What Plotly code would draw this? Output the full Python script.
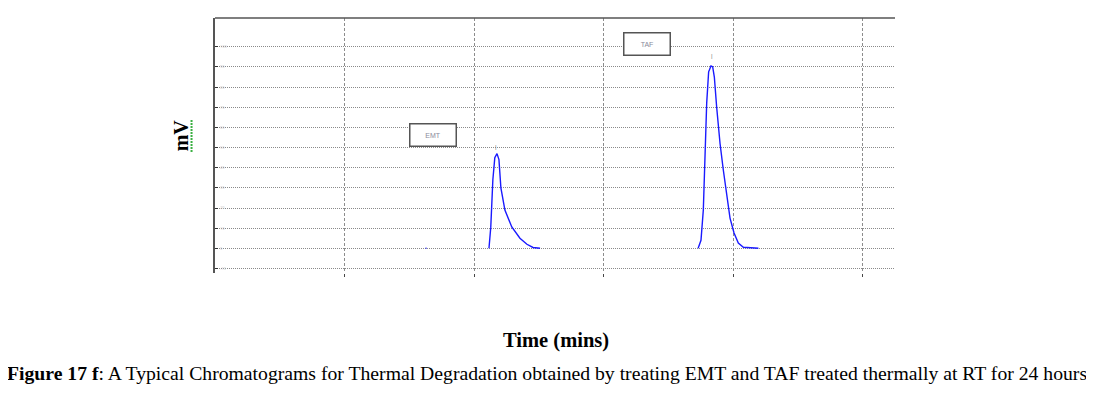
import plotly.graph_objects as go

# ---- data (time in mins, signal in mV) ----
emt_time = [2.114, 2.128, 2.144, 2.159, 2.176, 2.191, 2.206, 2.237, 2.290, 2.353, 2.407, 2.454, 2.508]
emt_mv   = [0.0, 10.5, 34.0, 45.0, 47.0, 44.0, 30.0, 19.0, 10.6, 5.0, 2.0, 0.4, 0.0]

taf_time = [3.728, 3.750, 3.768, 3.781, 3.794, 3.809, 3.827, 3.840, 3.853, 3.871, 3.897,
            3.922, 3.948, 3.974, 4.005, 4.038, 4.077, 4.193]
taf_mv   = [0.0, 4.0, 19.0, 41.0, 72.0, 87.6, 90.5, 90.1, 85.0, 70.0, 52.0,
            39.0, 25.6, 15.0, 7.6, 2.6, 0.5, 0.0]

base_time = [1.625, 1.632]
base_mv   = [0.0, 0.0]

peak_names = ["EMT", "TAF"]
label_time = [1.68, 3.337]
label_mv   = [56.0, 101.4]
apex_time  = [2.172, 3.835]
apex_mv    = [50.5, 95.5]

y_ticks = [-10, 0, 10, 20, 30, 40, 50, 60, 70, 80, 90, 100]
y_tick_text = ["-10", "0", "10", "20", "30", "40", "50", "60", "70", "80", "90", "100"]
x_ticks = [1, 2, 3, 4, 5]

x_title = "Time (mins)"
y_title = "mV"
caption_bold = "Figure 17 f"
caption_rest = ": A Typical Chromatograms for Thermal Degradation obtained by treating EMT and TAF treated thermally at RT for 24 hours"

BLUE = "#1a1aff"
SERIF = "Liberation Serif, Times New Roman, serif"

fig = go.Figure()
for tx, ty in [(emt_time, emt_mv), (taf_time, taf_mv), (base_time, base_mv)]:
    fig.add_trace(go.Scatter(x=tx, y=ty, mode="lines",
                             line=dict(color=BLUE, width=1.4),
                             showlegend=False, hoverinfo="skip"))

# peak name boxes
for name, lx, ly in zip(peak_names, label_time, label_mv):
    fig.add_annotation(x=lx, y=ly, xref="x", yref="y", text=name, showarrow=False,
                       font=dict(family="Arial, sans-serif", size=7, color="#8a8a9a"),
                       width=43, height=19, borderpad=1, bordercolor="#555555",
                       borderwidth=1.5, bgcolor="white")
# apex markers
for ax_, ay_ in zip(apex_time, apex_mv):
    fig.add_annotation(x=ax_, y=ay_, xref="x", yref="y", text="|", showarrow=False,
                       font=dict(family="Arial", size=6, color="#777777"))

# top frame line
fig.add_shape(type="line", xref="paper", yref="paper", x0=0, x1=1, y0=1, y1=1,
              line=dict(color="#555555", width=1.5))

# y title with green squiggle
fig.add_annotation(xref="paper", yref="paper", x=-0.05, y=0.54, xanchor="center",
                   yanchor="middle", text="<b>" + y_title + "</b>",
                   textangle=-90, showarrow=False,
                   font=dict(family=SERIF, size=20, color="black"))
fig.add_shape(type="line", xref="paper", yref="paper", x0=-0.0345, x1=-0.0345,
              y0=0.475, y1=0.6, line=dict(color="#3cb043", width=2, dash="2px,1px"))

# x title
fig.add_annotation(xref="paper", yref="paper", x=0.501, xanchor="center",
                   y=-0.263, yanchor="middle",
                   text="<b>" + x_title + "</b>", showarrow=False,
                   font=dict(family=SERIF, size=20.5, color="black"))
# caption
fig.add_annotation(xref="paper", yref="paper", x=-0.309, xanchor="left",
                   y=-0.392, yanchor="middle",
                   text="<b>" + caption_bold + "</b>" + caption_rest, showarrow=False,
                   font=dict(family=SERIF, size=19.7, color="black"))

fig.update_xaxes(range=[0, 5.247], tickvals=x_ticks, ticktext=["" for _ in x_ticks],
                 showgrid=True, gridcolor="#8c8c8c", griddash="3px,2px", gridwidth=1,
                 ticks="outside", ticklen=3, tickcolor="#444444", showline=False,
                 zeroline=False)
fig.update_yaxes(range=[-12.26, 114.3], tickvals=y_ticks, ticktext=y_tick_text,
                 showgrid=True, gridcolor="#8a8a8a", griddash="1px,1px", gridwidth=1,
                 ticks="inside", ticklen=3, tickcolor="#333333",
                 ticklabelposition="inside", tickfont=dict(size=4, color="#c8c8c8"),
                 showline=True, linecolor="#555555", linewidth=1.5, zeroline=False)

fig.update_layout(width=1086, height=391,
                  margin=dict(l=207, r=199, t=10, b=126),
                  paper_bgcolor="white", plot_bgcolor="white",
                  showlegend=False)

fig.write_html("out.html")
